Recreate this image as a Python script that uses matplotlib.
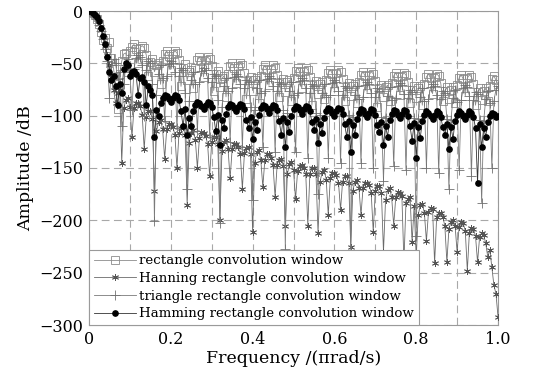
import numpy as np
import matplotlib
matplotlib.use('Agg')
import matplotlib.pyplot as plt

# ------------------------- data (dB) ---------------------
# common frequency sampling, step 0.005 (pi rad/s)
freq = np.linspace(0.0, 1.0, 201)

rect_db = [0, -0.5, -2, -4, -8, -12, -20, -28, -26, -35, -30, -45, -55, -70, -94, -60,
           -48, -41, -40, -58, -38, -34, -32, -36, -50, -35, -33, -35, -42, -62, -49, -46,
           -58, -52, -50, -70, -48, -41, -38, -43, -56, -41, -38, -40, -47, -72, -54, -51,
           -66, -58, -56, -74, -54, -47, -44, -48, -63, -47, -44, -46, -53, -76, -60, -57,
           -73, -64, -62, -82, -60, -53, -50, -54, -69, -53, -50, -52, -59, -84, -66, -63,
           -76, -66, -64, -88, -62, -55, -52, -56, -71, -55, -52, -54, -61, -82, -68, -65,
           -77, -68, -66, -86, -64, -57, -54, -58, -74, -57, -54, -56, -63, -90, -70, -67,
           -79, -70, -68, -84, -66, -59, -56, -60, -76, -59, -56, -58, -65, -86, -72, -69,
           -81, -72, -70, -88, -68, -61, -58, -62, -78, -61, -58, -60, -67, -92, -74, -71,
           -82, -73, -71, -86, -69, -62, -59, -63, -80, -62, -59, -61, -68, -88, -75, -72,
           -83, -74, -72, -90, -70, -63, -60, -64, -79, -63, -60, -62, -69, -86, -76, -73,
           -84, -75, -73, -88, -71, -64, -61, -65, -81, -64, -61, -63, -70, -90, -77, -74,
           -85, -76, -74, -86, -72, -65, -62, -66, -70]

hanning_db = [0, -0.5, -2, -4.5, -8, -12, -18, -25, -33, -42, -52, -63, -75, -88, -78, -75,
              -145, -93, -85, -83, -92, -120, -93, -88, -88, -91, -99, -132, -101, -96, -96, -103,
              -172, -115, -106, -104, -113, -141, -113, -108, -108, -111, -118, -150, -117, -112, -111, -118,
              -185, -126, -117, -114, -123, -150, -121, -116, -117, -119, -127, -158, -125, -120, -120, -127,
              -200, -134, -125, -123, -132, -160, -132, -127, -127, -130, -137, -170, -136, -131, -130, -137,
              -211, -145, -135, -133, -142, -168, -142, -137, -137, -140, -147, -178, -147, -142, -141, -148,
              -205, -156, -146, -144, -152, -180, -153, -148, -147, -150, -156, -205, -156, -150, -150, -156,
              -212, -163, -154, -152, -161, -195, -160, -155, -155, -157, -164, -190, -163, -158, -158, -164,
              -225, -172, -163, -161, -169, -195, -169, -164, -164, -166, -174, -211, -172, -167, -167, -174,
              -230, -181, -171, -169, -178, -205, -178, -173, -174, -177, -240, -183, -180, -178, -221, -186,
              -235, -195, -185, -184, -193, -220, -192, -188, -189, -241, -197, -193, -193, -197, -205, -240,
              -208, -202, -200, -205, -230, -206, -202, -203, -210, -248, -212, -207, -208, -215, -240, -216,
              -212, -214, -222, -235, -228, -245, -262, -270, -292]

triangle_db = [0, -0.5, -2, -4.5, -8, -13, -19, -27, -36, -48, -83, -52, -46, -50, -65, -58,
               -110, -70, -52, -46, -58, -95, -55, -45, -42, -44, -52, -100, -56, -48, -50, -70,
               -201, -80, -60, -52, -64, -105, -62, -51, -48, -50, -58, -112, -62, -54, -56, -78,
               -170, -86, -66, -58, -70, -115, -68, -57, -54, -56, -64, -120, -68, -60, -62, -85,
               -203, -92, -72, -64, -76, -125, -74, -63, -60, -62, -70, -130, -74, -66, -68, -92,
               -181, -95, -74, -66, -78, -130, -76, -65, -62, -64, -72, -135, -76, -68, -70, -95,
               -227, -97, -76, -68, -80, -135, -78, -67, -64, -66, -74, -140, -78, -70, -72, -97,
               -175, -99, -78, -70, -82, -140, -80, -69, -66, -68, -76, -145, -80, -72, -74, -99,
               -228, -101, -80, -72, -84, -145, -82, -71, -68, -70, -78, -150, -82, -74, -76, -101,
               -162, -102, -81, -73, -85, -148, -83, -72, -69, -71, -79, -152, -83, -75, -77, -102,
               -215, -103, -82, -74, -86, -150, -84, -73, -70, -72, -80, -155, -84, -76, -78, -103,
               -170, -104, -83, -75, -87, -152, -85, -74, -71, -73, -81, -158, -85, -77, -79, -104,
               -183, -105, -84, -76, -88, -150, -86, -75, -72]

hamming_db = [0, -0.4, -1.5, -3.5, -6, -10, -16, -24, -32, -44, -58, -66, -62, -72, -90, -70,
              -78, -55, -50, -52, -62, -58, -57, -60, -80, -64, -63, -68, -90, -72, -75, -80,
              -120, -95, -100, -88, -83, -80, -81, -84, -87, -83, -80, -81, -85, -96, -110, -94,
              -118, -102, -110, -96, -90, -87, -88, -91, -94, -90, -87, -88, -92, -101, -115, -99,
              -128, -104, -112, -98, -92, -89, -90, -93, -96, -92, -89, -90, -94, -104, -112, -101,
              -122, -106, -114, -99, -93, -90, -91, -94, -97, -93, -90, -91, -95, -105, -118, -102,
              -130, -106, -116, -100, -94, -91, -92, -95, -98, -94, -91, -92, -96, -106, -114, -103,
              -126, -108, -117, -102, -96, -93, -94, -97, -100, -96, -93, -94, -98, -108, -120, -105,
              -135, -109, -118, -103, -97, -94, -95, -98, -101, -97, -94, -95, -99, -109, -116, -106,
              -128, -110, -120, -104, -98, -95, -96, -99, -102, -98, -95, -96, -100, -110, -124, -107,
              -140, -111, -121, -105, -99, -96, -97, -100, -103, -99, -96, -97, -101, -111, -118, -108,
              -132, -111, -122, -105, -99, -96, -97, -100, -103, -99, -96, -97, -101, -112, -164, -108,
              -130, -112, -120, -106, -100, -97, -98, -101, -100]

labels = ['rectangle convolution window',
          'Hanning rectangle convolution window',
          'triangle rectangle convolution window',
          'Hamming rectangle convolution window']

# ------------------------- plotting ---------------------------
plt.rcParams['font.family'] = ['DejaVu Serif']
plt.rcParams['mathtext.fontset'] = 'dejavuserif'

fig = plt.figure(figsize=(5.34, 3.83), dpi=100)
ax = fig.add_axes([89/534., 1-325/383., (498-89)/534., (325-11)/383.])

asterisk = (6, 2, 0)
ax.plot(freq, rect_db, color='#8c8c8c', lw=0.6, marker='s', ms=5.4, mfc='none',
        mec='#8c8c8c', mew=0.6, label=labels[0], zorder=3)
ax.plot(freq, hanning_db, color='#6a6a6a', lw=0.6, marker=asterisk, ms=5.0,
        mec='#555555', mew=0.6, label=labels[1], zorder=4)
ax.plot(freq, triangle_db, color='#7a7a7a', lw=0.6, marker='+', ms=7.0,
        mec='#707070', mew=0.6, label=labels[2], zorder=5)
ax.plot(freq, hamming_db, color='#333333', lw=0.6, marker='o', ms=3.8,
        mfc='black', mec='black', label=labels[3], zorder=6)

ax.set_xlim(0, 1.0)
ax.set_ylim(-300, 0)
ax.set_xticks([0, 0.2, 0.4, 0.6, 0.8, 1.0])
ax.set_xticklabels(['0', '0.2', '0.4', '0.6', '0.8', '1.0'])
ax.set_yticks(np.arange(-300, 1, 50))
ax.set_xticks(np.arange(0.1, 1.0, 0.2), minor=True)
ax.tick_params(which='both', length=0, labelsize=11.5, pad=4)
ax.grid(True, which='both', color='#a8a8a8', linestyle=(0, (7, 4)), linewidth=0.8)
ax.set_axisbelow(True)
for sp in ax.spines.values():
    sp.set_color('#9a9a9a')
    sp.set_linewidth(0.8)

ax.set_xlabel('Frequency /(\u03c0rad/s)', fontsize=12.5, labelpad=2)
ax.set_ylabel('Amplitude /dB', fontsize=12.5, labelpad=4)

leg = ax.legend(loc='lower left', borderaxespad=0, fontsize=9.6, handlelength=3.2,
                handletextpad=0.2, labelspacing=0.35, borderpad=0.35, fancybox=False,
                framealpha=1, edgecolor='#9a9a9a')
leg.get_frame().set_linewidth(0.8)

plt.savefig('out.png', dpi=100)
plt.close()
